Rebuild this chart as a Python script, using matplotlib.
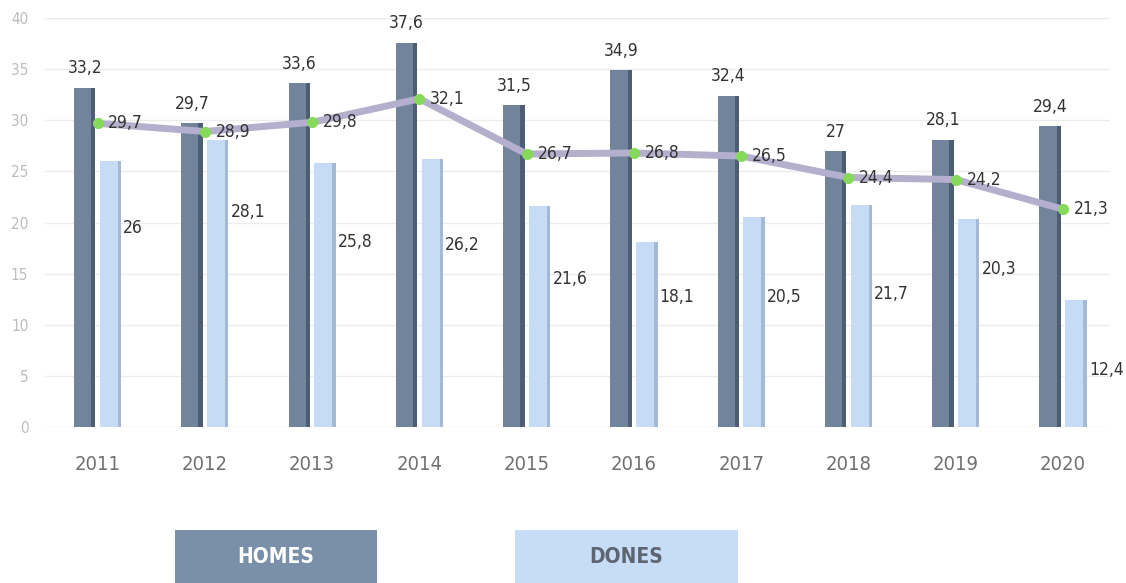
import matplotlib
matplotlib.use('Agg')
import matplotlib.pyplot as plt
from matplotlib.patches import Rectangle

plt.rcParams['font.family'] = ['DejaVu Sans']
plt.rcParams['font.stretch'] = 'condensed'

years = ['2011', '2012', '2013', '2014', '2015', '2016', '2017', '2018', '2019', '2020']
homes = [33.2, 29.7, 33.6, 37.6, 31.5, 34.9, 32.4, 27.0, 28.1, 29.4]
dones = [26.0, 28.1, 25.8, 26.2, 21.6, 18.1, 20.5, 21.7, 20.3, 12.4]
total = [29.7, 28.9, 29.8, 32.1, 26.7, 26.8, 26.5, 24.4, 24.2, 21.3]

# where the DONES labels sit, as a share of the bar height
dones_label_frac = [0.75, 0.75, 0.70, 0.68, 0.67, 0.70, 0.62, 0.60, 0.76, 0.45]


def fmt(v: float) -> str:
    s = f'{v:.1f}'.replace('.', ',')
    return s[:-2] if s.endswith(',0') else s


HOMES_C = '#71849c'
HOMES_DARK = '#4d5d72'
DONES_C = '#c6dcf6'
DONES_DARK = '#a3b9d4'

fig = plt.figure(figsize=(11.26, 5.83), dpi=100)
ax = fig.add_axes([0.040, 0.2676, 0.946, 0.7015])

x = list(range(len(years)))
w = 0.2
xh = [i - 0.12 for i in x]
xd = [i + 0.12 for i in x]

ax.bar(xh, homes, width=w, color=HOMES_C, zorder=2)
ax.bar([v + w * 0.4 for v in xh], homes, width=w * 0.2, color=HOMES_DARK, zorder=2)
ax.bar(xd, dones, width=w, color=DONES_C, zorder=2)
ax.bar([v + w * 0.42 for v in xd], dones, width=w * 0.16, color=DONES_DARK, zorder=2)

ax.plot(x, total, color='#b3afcc', lw=5, solid_capstyle='round', zorder=3)
ax.plot(x, total, 'o', color='#86d95a', ms=7, zorder=4)

lbl = dict(fontsize=12.5, color='#333333')
for i in x:
    ax.text(xh[i], homes[i] + 1.0, fmt(homes[i]), ha='center', va='bottom', **lbl)
    ax.text(xd[i] + 0.12, dones[i] * dones_label_frac[i], fmt(dones[i]),
            ha='left', va='center', **lbl)
    ax.text(i + 0.1, total[i], fmt(total[i]), ha='left', va='center', zorder=5, **lbl)

ax.set_xlim(-0.49, 9.44)
ax.set_ylim(0, 40)
ax.set_yticks(range(0, 41, 5))
ax.yaxis.grid(True, color='#ececec', lw=1)
ax.set_axisbelow(True)
ax.set_xticks(x)
ax.set_xticklabels(years)
ax.tick_params(axis='x', length=0, pad=20, labelsize=14.5, labelcolor='#707070')
ax.tick_params(axis='y', length=0, pad=12, labelsize=11, labelcolor='#bcbcbc')
for s in ax.spines.values():
    s.set_visible(False)

# legend boxes below the chart
fig.patches.append(Rectangle((0.155, 0.0), 0.18, 0.091, transform=fig.transFigure,
                             facecolor='#7a8fa8', edgecolor='none'))
fig.text(0.245, 0.045, 'HOMES', ha='center', va='center', fontsize=15,
         fontweight='bold', color='white')
fig.patches.append(Rectangle((0.457, 0.0), 0.198, 0.091, transform=fig.transFigure,
                             facecolor='#c6dcf7', edgecolor='none'))
fig.text(0.556, 0.045, 'DONES', ha='center', va='center', fontsize=15,
         fontweight='bold', color='#5d6570')

fig.savefig('out.png', dpi=100)
